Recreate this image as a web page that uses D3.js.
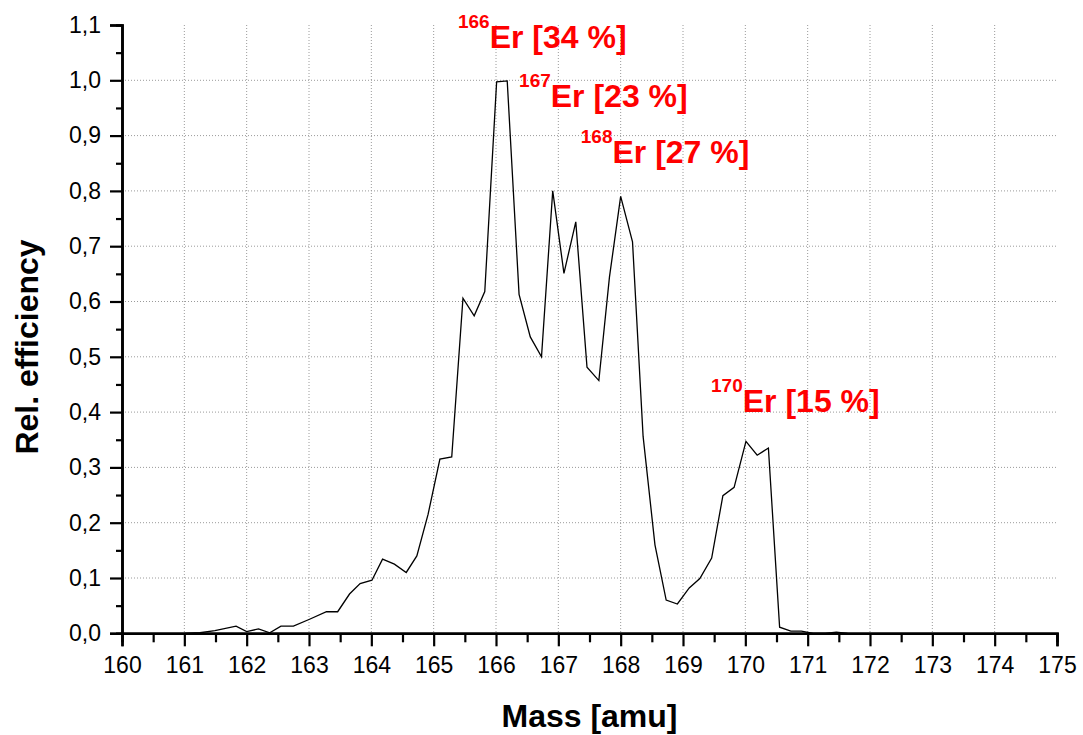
<!DOCTYPE html>
<html>
<head>
<meta charset="utf-8">
<script src="https://cdn.jsdelivr.net/npm/d3@7"></script>
<style>
  html, body { margin: 0; padding: 0; background: #fff; }
  svg { display: block; font-family: "Liberation Sans", Arial, sans-serif; }
</style>
</head>
<body>
<svg id="chart" width="1083" height="735"></svg>
<script>
// Measured relative ionisation efficiency across the erbium mass range
const mass = [
  161.00, 161.25, 161.49, 161.83, 162.00, 162.19, 162.37, 162.55, 162.75, 163.00,
  163.28, 163.46, 163.65, 163.82, 164.01, 164.18, 164.37, 164.56, 164.73, 164.91,
  165.10, 165.29, 165.47, 165.65, 165.82, 166.01, 166.18, 166.37, 166.55, 166.73,
  166.91, 167.09, 167.28, 167.46, 167.65, 167.82, 168.00, 168.19, 168.36, 168.55,
  168.73, 168.91, 169.10, 169.27, 169.46, 169.64, 169.82, 170.01, 170.19, 170.37,
  170.55, 170.73, 170.90, 171.09, 171.28, 171.46, 171.64
];
const efficiency = [
  0.000, 0.001, 0.005, 0.013, 0.003, 0.008, 0.001, 0.013, 0.013, 0.025,
  0.039, 0.039, 0.071, 0.090, 0.096, 0.134, 0.125, 0.110, 0.140, 0.215,
  0.315, 0.319, 0.606, 0.574, 0.618, 0.997, 0.999, 0.613, 0.536, 0.500,
  0.800, 0.651, 0.744, 0.481, 0.457, 0.644, 0.790, 0.708, 0.356, 0.160,
  0.060, 0.053, 0.082, 0.099, 0.136, 0.249, 0.264, 0.347, 0.322, 0.335,
  0.011, 0.004, 0.004, 0.000, 0.000, 0.002, 0.000
];

// Isotope annotations: mass number, natural abundance, anchor position
const isotopes  = ["166", "167", "168", "170"];
const abundance = ["34", "23", "27", "15"];
const labelMass = [165.39, 166.37, 167.36, 169.45];
const labelVal  = [1.058, 0.951, 0.850, 0.400];

const xTicks = d3.range(160, 176, 1);
const yTicks = d3.range(0, 12, 1).map(d => d / 10);

const svg = d3.select("#chart");
const x = d3.scaleLinear().domain([160, 175]).range([122, 1057]);
const y = d3.scaleLinear().domain([0, 1.1]).range([633.3, 25]);

const comma = v => d3.format(".1f")(v).replace(".", ",");

// Dotted grid
const grid = svg.append("g").attr("stroke", "#9a9a9a").attr("stroke-width", 1)
  .attr("stroke-dasharray", "1,2");
grid.selectAll("line.v").data(xTicks.filter(d => d > 160 && d < 175)).join("line")
  .attr("x1", d => x(d)).attr("x2", d => x(d))
  .attr("y1", y(1.1)).attr("y2", y(0));
grid.selectAll("line.h").data(yTicks.filter(d => d > 0 && d < 1.05)).join("line")
  .attr("x1", x(160)).attr("x2", x(175))
  .attr("y1", d => y(d)).attr("y2", d => y(d));

// Data trace
const line = d3.line().x((d, i) => x(mass[i])).y(d => y(d));
svg.append("path").datum(efficiency)
  .attr("fill", "none").attr("stroke", "#000").attr("stroke-width", 1.3)
  .attr("stroke-linejoin", "miter").attr("d", line);

// Axes
function styleAxis(g) {
  g.select(".domain").attr("stroke", "#000").attr("stroke-width", 2.6);
  g.selectAll(".tick line").attr("stroke", "#000").attr("stroke-width", 2.2);
  g.selectAll("text").attr("fill", "#000").attr("font-size", 23)
    .attr("font-family", "'Liberation Sans', Arial, sans-serif");
}

const xMinor = svg.append("g").attr("transform", `translate(0,${y(0)})`)
  .call(d3.axisBottom(x).tickValues(d3.range(160.5, 175, 1)).tickSize(9).tickFormat(""));
styleAxis(xMinor);
const xAxis = svg.append("g").attr("transform", `translate(0,${y(0)})`)
  .call(d3.axisBottom(x).tickValues(xTicks).tickSize(13).tickPadding(10).tickFormat(d3.format("d")));
styleAxis(xAxis);

const yMinor = svg.append("g").attr("transform", `translate(${x(160)},0)`)
  .call(d3.axisLeft(y).tickValues(d3.range(0.05, 1.1, 0.1)).tickSize(6).tickFormat(""));
styleAxis(yMinor);
const yAxis = svg.append("g").attr("transform", `translate(${x(160)},0)`)
  .call(d3.axisLeft(y).tickValues(yTicks).tickSize(12).tickPadding(9).tickFormat(comma));
styleAxis(yAxis);

// Axis titles
svg.append("text")
  .attr("x", (x(160) + x(175)) / 2).attr("y", 727)
  .attr("text-anchor", "middle").attr("font-size", 32).attr("font-weight", "bold")
  .text("Mass [amu]");
svg.append("text")
  .attr("transform", `translate(38,${(25 + 633) / 2 + 18}) rotate(-90)`)
  .attr("text-anchor", "middle").attr("font-size", 32).attr("font-weight", "bold")
  .text("Rel. efficiency");

// Isotope labels with superscript mass numbers
isotopes.forEach((iso, i) => {
  const t = svg.append("text")
    .attr("x", x(labelMass[i])).attr("y", y(labelVal[i]))
    .attr("fill", "#ff0000").attr("font-weight", "bold");
  t.append("tspan").attr("font-size", 19).attr("dy", -20).text(iso);
  t.append("tspan").attr("font-size", 32).attr("dy", 20).text(`Er [${abundance[i]} %]`);
});
</script>
</body>
</html>
